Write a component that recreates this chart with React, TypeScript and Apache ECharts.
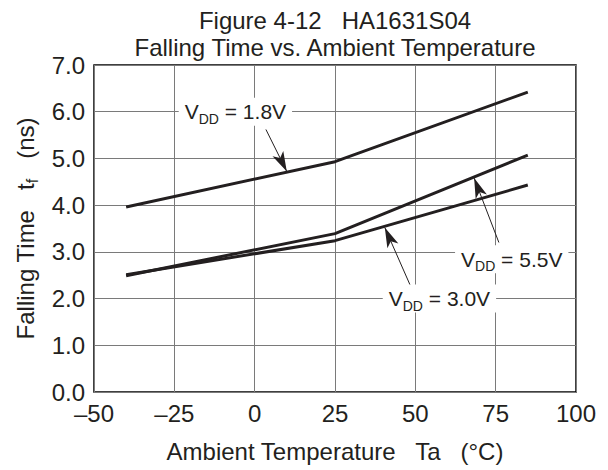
import React, { useEffect, useRef } from "react";
import * as echarts from "echarts";

const temps = [-40, 25, 85];
const vdd18 = [3.96, 4.93, 6.42];
const vdd55 = [2.49, 3.39, 5.07];
const vdd30 = [2.51, 3.24, 4.43];
const xTicks = [-50, -25, 0, 25, 50, 75, 100];
const seriesNames = ["VDD = 1.8V", "VDD = 5.5V", "VDD = 3.0V"];

const FONT = "'Liberation Sans', Arial, Helvetica, sans-serif";
const INK = "#231f20";

const richLabel = {
  a: { fontSize: 21, lineHeight: 28, verticalAlign: "middle", color: INK, fontFamily: FONT },
  b: { fontSize: 14, lineHeight: 14, verticalAlign: "bottom", color: INK, fontFamily: FONT },
};

function vddText(v: string) {
  return `{a|V}{b|DD}{a| = ${v}}`;
}

export default function App() {
  const ref = useRef<HTMLDivElement>(null);
  useEffect(() => {
    document.body.style.margin = "0";
    document.body.style.overflow = "hidden";
    if (!ref.current) return;
    const chart = echarts.init(ref.current, null, { renderer: "svg" });
    const pair = (xs: number[], ys: number[]) => xs.map((x, i) => [x, ys[i]]);
    const annot = (coord: number[], text: string) => ({
      symbol: "rect",
      symbolSize: 1,
      itemStyle: { color: "rgba(0,0,0,0)" },
      label: {
        show: true,
        position: "inside",
        formatter: text,
        rich: richLabel,
        backgroundColor: "#fff",
        padding: [0, 6],
      },
      data: [{ coord }],
    });
    const arrow = (from: number[], to: number[]) => ({
      symbol: ["none", "arrow"],
      symbolSize: [9, 20],
      silent: true,
      label: { show: false },
      lineStyle: { color: INK, width: 1, type: "solid" },
      data: [[{ coord: from }, { coord: to }]],
    });
    const lineSeries = (name: string, ys: number[]) => ({
      name,
      type: "line",
      data: pair(temps, ys),
      showSymbol: false,
      symbol: "none",
      lineStyle: { color: INK, width: 3 },
      z: 3,
    });
    chart.setOption({
      animation: false,
      title: {
        text: "Figure 4-12   HA1631S04\nFalling Time vs. Ambient Temperature",
        left: 335,
        top: 7,
        padding: 0,
        textAlign: "center",
        textStyle: { fontSize: 24, lineHeight: 27, fontWeight: "normal", color: INK, fontFamily: FONT },
      },
      grid: {
        left: 94,
        right: 32,
        top: 65,
        bottom: 78,
        show: true,
        borderColor: "#000",
        borderWidth: 1.5,
        backgroundColor: "#fff",
      },
      xAxis: {
        type: "value",
        min: xTicks[0],
        max: xTicks[xTicks.length - 1],
        interval: 25,
        name: "Ambient Temperature   Ta   (°C)",
        nameLocation: "middle",
        nameGap: 47,
        nameTextStyle: { fontSize: 24, color: INK, fontFamily: FONT },
        axisLine: { show: false },
        axisTick: { show: false },
        axisLabel: {
          fontSize: 24,
          color: INK,
          fontFamily: FONT,
          margin: 9,
          formatter: (v: number) => String(v).replace("-", "\u2013"),
        },
        splitLine: { show: true, lineStyle: { color: "#7a7a7a", width: 1 } },
      },
      yAxis: {
        type: "value",
        min: 0,
        max: 7,
        interval: 1,
        name: "Falling Time   t{s|f}   (ns)",
        nameLocation: "middle",
        nameGap: 54,
        nameTextStyle: {
          fontSize: 24,
          color: INK,
          fontFamily: FONT,
          lineHeight: 30,
          rich: {
            s: { fontSize: 16, lineHeight: 16, verticalAlign: "bottom", color: INK, fontFamily: FONT },
          },
        },
        axisLine: { show: false },
        axisTick: { show: false },
        axisLabel: {
          fontSize: 24,
          color: INK,
          fontFamily: FONT,
          margin: 9,
          formatter: (v: number) => v.toFixed(1),
        },
        splitLine: { show: true, lineStyle: { color: "#7a7a7a", width: 1 } },
      },
      series: [
        {
          ...lineSeries(seriesNames[0], vdd18),
          markPoint: annot([-6, 6.0], vddText("1.8V")),
          markLine: arrow([3.5, 5.62], [10, 4.72]),
        },
        {
          ...lineSeries(seriesNames[1], vdd55),
          markPoint: annot([80, 2.84], vddText("5.5V")),
          markLine: arrow([76, 3.2], [68.3, 4.58]),
        },
        {
          ...lineSeries(seriesNames[2], vdd30),
          markPoint: annot([57.5, 2.0], vddText("3.0V")),
          markLine: arrow([48.5, 2.27], [40.5, 3.52]),
        },
      ],
    });
    return () => chart.dispose();
  }, []);
  return <div ref={ref} style={{ width: 608, height: 470 }} />;
}
